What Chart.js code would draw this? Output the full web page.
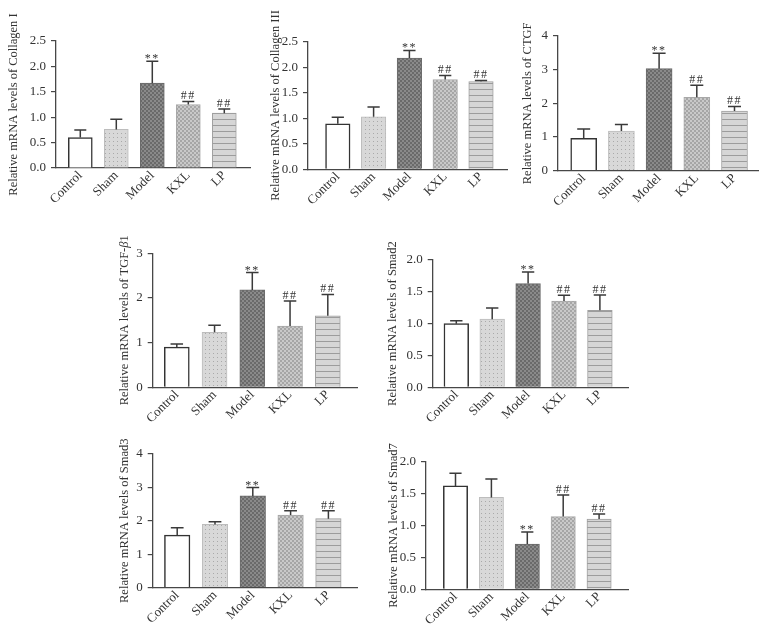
<!DOCTYPE html>
<html>
<head>
<meta charset="utf-8">
<script src="https://cdn.jsdelivr.net/npm/chart.js@4.4.0/dist/chart.umd.min.js"></script>
<style>
  body { margin: 0; background: #fff; }
  #wrap { position: relative; width: 768px; height: 634px; overflow: hidden; }
  #wrap canvas { position: absolute; left: 0; top: 0; }
</style>
</head>
<body>
<div id="wrap">
  <canvas id="c1" width="768" height="634"></canvas>
  <canvas id="c2" width="768" height="634"></canvas>
  <canvas id="c3" width="768" height="634"></canvas>
  <canvas id="c4" width="768" height="634"></canvas>
  <canvas id="c5" width="768" height="634"></canvas>
  <canvas id="c6" width="768" height="634"></canvas>
  <canvas id="c7" width="768" height="634"></canvas>
</div>
<script>
// groups and significance marks shared by every panel
const groups = ["Control", "Sham", "Model", "KXL", "LP"];
const marks = ["", "", "**", "##", "##"];

// mean and upper error (SD)
const collagen1Mean = [0.60, 0.76, 1.67, 1.25, 1.08];
const collagen1Err  = [0.15, 0.20, 0.43, 0.06, 0.08];
const collagen3Mean = [0.89, 1.03, 2.18, 1.76, 1.72];
const collagen3Err  = [0.13, 0.19, 0.15, 0.08, 0.02];
const ctgfMean      = [0.96, 1.18, 3.03, 2.18, 1.77];
const ctgfErr       = [0.28, 0.19, 0.46, 0.36, 0.14];
const tgfMean       = [0.90, 1.23, 2.18, 1.37, 1.60];
const tgfErr        = [0.07, 0.16, 0.39, 0.56, 0.48];
const smad2Mean     = [1.00, 1.07, 1.63, 1.355, 1.21];
const smad2Err      = [0.045, 0.175, 0.18, 0.09, 0.24];
const smad3Mean     = [1.57, 1.89, 2.74, 2.17, 2.06];
const smad3Err      = [0.22, 0.08, 0.25, 0.13, 0.24];
const smad7Mean     = [1.62, 1.44, 0.71, 1.14, 1.10];
const smad7Err      = [0.20, 0.29, 0.19, 0.34, 0.08];

const FONT = "'Liberation Serif', 'DejaVu Serif', serif";
const INK = "#333333";
const AXIS = "#474747";

function pattern(w, h, draw) {
  const c = document.createElement("canvas");
  c.width = w; c.height = h;
  const g = c.getContext("2d");
  draw(g);
  return g.createPattern(c, "repeat");
}

const shamFill = pattern(4, 4, g => {
  g.fillStyle = "#d8d8d8"; g.fillRect(0, 0, 4, 4);
  g.fillStyle = "#a9a9a9"; g.fillRect(1, 1, 1, 1);
});
const modelFill = pattern(4, 4, g => {
  g.fillStyle = "#8a8a8a"; g.fillRect(0, 0, 4, 4);
  g.fillStyle = "#6a6a6a"; g.fillRect(0, 0, 2, 2); g.fillRect(2, 2, 2, 2);
});
const kxlFill = pattern(4, 4, g => {
  g.fillStyle = "#c9c9c9"; g.fillRect(0, 0, 4, 4);
  g.fillStyle = "#a6a6a6"; g.fillRect(0, 0, 2, 2); g.fillRect(2, 2, 2, 2);
});
const lpFill = pattern(4, 6, g => {
  g.fillStyle = "#d6d6d6"; g.fillRect(0, 0, 4, 6);
  g.fillStyle = "#9c9c9c"; g.fillRect(0, 5, 4, 1);
});

const fills = ["#ffffff", shamFill, modelFill, kxlFill, lpFill];
const borders = ["#333333", "#bdbdbd", "#6a6a6a", "#a8a8a8", "#a0a0a0"];
const borderWidths = [1.5, 1, 1, 1, 1];

const errorBars = {
  id: "errorBars",
  afterDatasetsDraw(chart) {
    const ds = chart.data.datasets[0];
    const meta = chart.getDatasetMeta(0);
    const y = chart.scales.y;
    const ctx = chart.ctx;
    ctx.save();
    ctx.strokeStyle = "#3a3a3a";
    ctx.lineWidth = 1.5;
    ctx.fillStyle = INK;
    ctx.font = "12px " + FONT;
    ctx.textAlign = "center";
    ctx.textBaseline = "alphabetic";
    ctx.letterSpacing = "1.5px";
    meta.data.forEach((bar, i) => {
      const top = y.getPixelForValue(ds.data[i].y + ds.errs[i]);
      const half = bar.width / 4;
      ctx.beginPath();
      ctx.moveTo(bar.x, bar.y);
      ctx.lineTo(bar.x, top);
      ctx.moveTo(bar.x - half, top);
      ctx.lineTo(bar.x + half, top);
      ctx.stroke();
      if (ds.marks[i]) ctx.fillText(ds.marks[i], bar.x, ds.marks[i] === "**" ? top + 1 : top - 2);
    });
    ctx.restore();
  }
};

// y title drawn by hand so the Greek letter can be italic
const yTitle = {
  id: "yTitle",
  afterDraw(chart, args, opts) {
    const a = chart.chartArea;
    const ctx = chart.ctx;
    const size = 12.5;
    ctx.save();
    ctx.fillStyle = INK;
    ctx.textBaseline = "middle";
    ctx.textAlign = "left";
    const fontOf = s => (s.italic ? "italic " : "") + size + "px " + FONT;
    let total = 0;
    opts.parts.forEach(s => { ctx.font = fontOf(s); total += ctx.measureText(s.text).width; });
    ctx.translate(a.left - opts.dist, (a.top + a.bottom) / 2);
    ctx.rotate(-Math.PI / 2);
    let x = -total / 2;
    opts.parts.forEach(s => {
      ctx.font = fontOf(s);
      ctx.fillText(s.text, x, 0);
      x += ctx.measureText(s.text).width;
    });
    ctx.restore();
  }
};

function makePanel(p) {
  const L = p.layout;
  const Wy = 54, Hx = 50;
  const xMin = -(L.first - L.axisX) / L.spacing;
  const xMax = xMin + (L.end - L.axisX) / L.spacing;
  new Chart(document.getElementById(p.id), {
    type: "bar",
    data: {
      datasets: [{
        data: p.mean.map((v, i) => ({ x: i, y: v })),
        errs: p.err,
        marks: marks,
        backgroundColor: fills,
        borderColor: borders,
        borderWidth: borderWidths,
        barThickness: L.bar
      }]
    },
    options: {
      responsive: false,
      animation: false,
      layout: {
        padding: { left: L.axisX - Wy, top: L.top, right: 768 - L.end, bottom: 634 - L.bottom - Hx }
      },
      plugins: {
        legend: { display: false },
        tooltip: { enabled: false },
        yTitle: { parts: p.title, dist: L.titleD }
      },
      scales: {
        x: {
          type: "linear",
          offset: false,
          min: xMin,
          max: xMax,
          afterFit: s => { s.height = Hx; },
          afterBuildTicks: s => { s.ticks = groups.map((g, i) => ({ value: i })); },
          grid: { display: false, drawTicks: false, offset: false },
          border: { color: AXIS, width: 1.3 },
          ticks: {
            callback: v => groups[v],
            minRotation: 45, maxRotation: 45, autoSkip: false,
            padding: 0,
            color: INK,
            font: { family: FONT, size: 13 }
          }
        },
        y: {
          min: 0,
          max: p.max,
          afterFit: s => { s.width = Wy; },
          grid: { display: true, drawOnChartArea: false, drawTicks: true, tickLength: 5, color: AXIS, lineWidth: 1.2 },
          border: { color: AXIS, width: 1.3 },
          ticks: {
            stepSize: p.step,
            callback: v => v.toFixed(p.dec),
            padding: 5,
            color: INK,
            font: { family: FONT, size: 13 }
          }
        }
      }
    },
    plugins: [errorBars, yTitle]
  });
}

const panels = [
  { id: "c1", title: [{ text: "Relative mRNA levels of Collagen I" }], mean: collagen1Mean, err: collagen1Err, max: 2.5, step: 0.5, dec: 1,
    layout: { axisX: 56, top: 41, bottom: 168, end: 250, first: 80.3, spacing: 36, bar: 24, titleD: 42 } },
  { id: "c2", title: [{ text: "Relative mRNA levels of Collagen III" }], mean: collagen3Mean, err: collagen3Err, max: 2.5, step: 0.5, dec: 1,
    layout: { axisX: 308, top: 41.7, bottom: 169.3, end: 507, first: 337.8, spacing: 35.8, bar: 24.5, titleD: 32 } },
  { id: "c3", title: [{ text: "Relative mRNA levels of CTGF" }], mean: ctgfMean, err: ctgfErr, max: 4, step: 1, dec: 0,
    layout: { axisX: 558, top: 36, bottom: 170.7, end: 758, first: 583.7, spacing: 37.7, bar: 26, titleD: 30.5 } },
  { id: "c4", title: [{ text: "Relative mRNA levels of TGF-" }, { text: "β", italic: true }, { text: "1" }], mean: tgfMean, err: tgfErr, max: 3, step: 1, dec: 0,
    layout: { axisX: 152.7, top: 253.3, bottom: 387.3, end: 358, first: 176.8, spacing: 37.75, bar: 25, titleD: 28 } },
  { id: "c5", title: [{ text: "Relative mRNA levels of Smad2" }], mean: smad2Mean, err: smad2Err, max: 2, step: 0.5, dec: 1,
    layout: { axisX: 432.7, top: 260, bottom: 387.3, end: 628, first: 456.3, spacing: 35.9, bar: 24.7, titleD: 40 } },
  { id: "c6", title: [{ text: "Relative mRNA levels of Smad3" }], mean: smad3Mean, err: smad3Err, max: 4, step: 1, dec: 0,
    layout: { axisX: 152.7, top: 453.7, bottom: 587.7, end: 358, first: 177.2, spacing: 37.8, bar: 25.5, titleD: 28 } },
  { id: "c7", title: [{ text: "Relative mRNA levels of Smad7" }], mean: smad7Mean, err: smad7Err, max: 2, step: 0.5, dec: 1,
    layout: { axisX: 426, top: 461.7, bottom: 589.3, end: 628, first: 455.5, spacing: 35.9, bar: 24.3, titleD: 32 } }
];

panels.forEach(makePanel);
</script>
</body>
</html>
